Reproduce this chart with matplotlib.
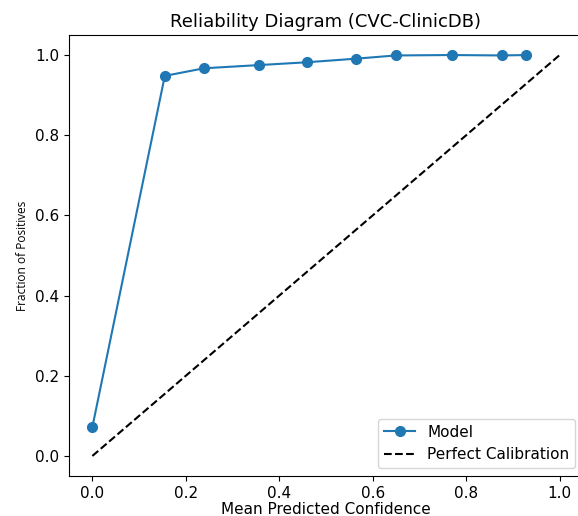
import numpy as np
import matplotlib
matplotlib.use("Agg")
import matplotlib.pyplot as plt

# -------------------- data --------------------
mean_conf = [0.0, 0.155, 0.239, 0.357, 0.459, 0.565, 0.649, 0.769, 0.876, 0.929]
frac_pos = [0.072, 0.948, 0.967, 0.975, 0.982, 0.991, 0.999, 1.0, 0.999, 1.0]
diag = [0.0, 1.0]

# -------------------- plot --------------------
fig = plt.figure(figsize=(5.78, 5.16), dpi=100)
ax = fig.add_axes([69 / 578, 40 / 516, 514 / 578, 441 / 516])

ax.plot(mean_conf, frac_pos, marker='o', markersize=7, color='#1f77b4', label='Model')
ax.plot(diag, diag, linestyle='--', color='black', label='Perfect Calibration')

ax.set_title('Reliability Diagram (CVC-ClinicDB)', fontsize=13)
ax.set_xlabel('Mean Predicted Confidence', fontsize=11, labelpad=1)
ax.set_ylabel('Fraction of Positives', fontsize=8.6, family='Open Sans')
ax.tick_params(labelsize=11)
ax.legend(loc='lower right', fontsize=11)

fig.savefig('out.png', dpi=100)
